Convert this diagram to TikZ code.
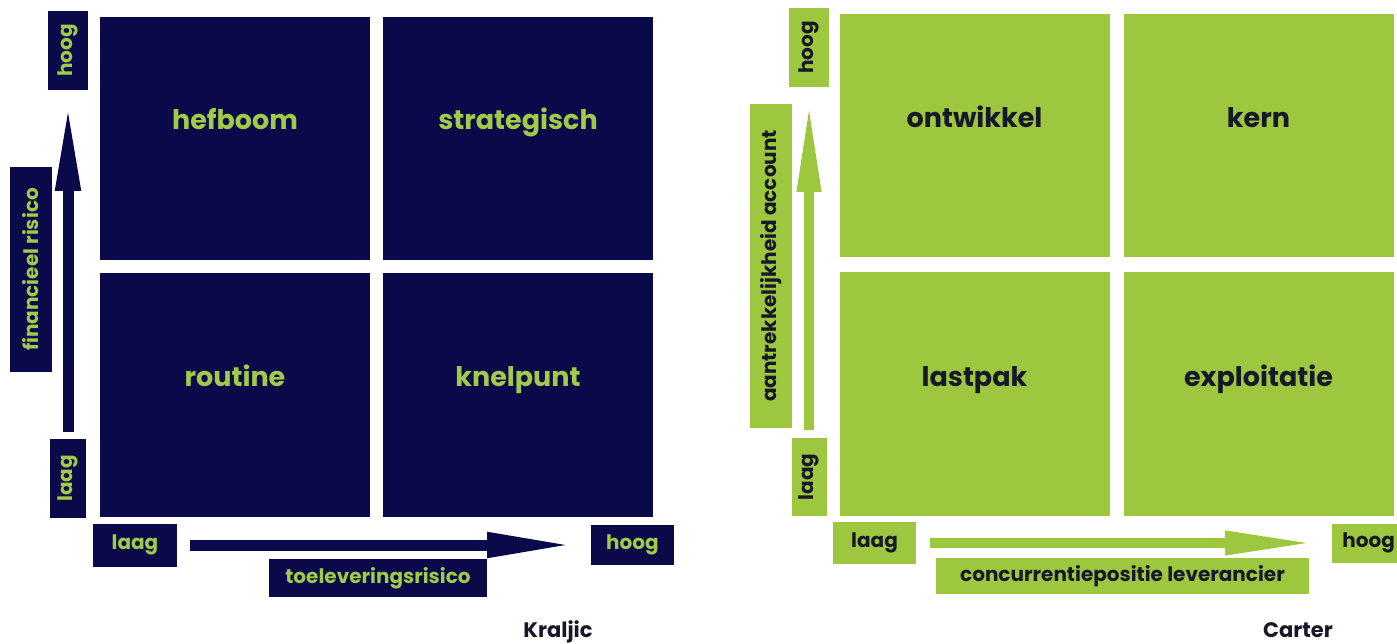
\documentclass[tikz,border=0pt]{standalone}
\usepackage{fontspec}
\setmainfont{Poppins}
\usetikzlibrary{arrows.meta}
\definecolor{navy}{RGB}{10,10,74}
\definecolor{lime}{RGB}{157,199,62}
\definecolor{limetext}{RGB}{160,202,72}
\definecolor{ink}{RGB}{22,24,42}
\newcommand{\fs}[1]{\fontsize{#1}{#1}\selectfont}
\tikzset{
  base/.style={inner sep=0pt, outer sep=0pt},
  kquad/.style={base, fill=navy, minimum width=270pt, minimum height=243pt},
  cquad/.style={base, fill=lime, minimum width=270pt, minimum height=243pt},
  klabel/.style={base, anchor=base, text=limetext, font=\bfseries\fs{27}},
  clabel/.style={base, anchor=base, text=ink, font=\bfseries\fs{27}},
  kbox/.style={base, fill=navy},
  cbox/.style={base, fill=lime},
  ktext/.style={base, text=limetext, font=\bfseries\fs{20}},
  ctext/.style={base, text=ink, font=\bfseries\fs{20}},
  title/.style={base, anchor=base, text=ink, font=\bfseries\fs{21}},
  karrow/.style={draw=navy, line width=11pt, -{Triangle[length=88pt,width=23pt]}},
  carrow/.style={draw=lime, line width=10pt, -{Triangle[length=90pt,width=22pt]}},
}
\begin{document}
\begin{tikzpicture}[x=1pt,y=-1pt]
\useasboundingbox (0,0) rectangle (1397,644);

% ---------- Kraljic matrix ----------
\node[kquad] (kTL) at (235,138.5) {};
\node[kquad] (kTR) at (518,138.5) {};
\node[kquad] (kBL) at (235,395) {};
\node[kquad] (kBR) at (518,395) {};
\node[klabel] at ([yshift=8.5pt]kTL.center) {hefboom};
\node[klabel] at ([yshift=8.5pt]kTR.center) {strategisch};
\node[klabel] at ([yshift=8.5pt]kBL.center) {routine};
\node[klabel] at ([yshift=8.5pt]kBR.center) {knelpunt};

% vertical axis
\node[kbox, minimum width=40pt, minimum height=79pt] (kHoogV) at (68,50.5) {};
\node[ktext, rotate=90] at (kHoogV.center) {hoog};
\node[kbox, minimum width=42pt, minimum height=205pt] (kFin) at (31,269.5) {};
\node[ktext, rotate=90] at (kFin.center) {financieel risico};
\node[kbox, minimum width=36pt, minimum height=79pt] (kLaagV) at (68,478.5) {};
\node[ktext, rotate=90] at (kLaagV.center) {laag};
\draw[karrow, shorten <=7pt, shorten >=13pt] (kLaagV.north) -- (kHoogV.south);

% horizontal axis
\node[kbox, minimum width=84pt, minimum height=43pt] (kLaagH) at (135,545) {};
\node[ktext] at (kLaagH.center) {laag};
\node[kbox, minimum width=83pt, minimum height=40pt] (kHoogH) at (632.5,545) {};
\node[ktext] at (kHoogH.center) {hoog};
\node[kbox, minimum width=218pt, minimum height=38pt] (kToe) at (378,578) {};
\node[ktext] at (kToe.center) {toeleveringsrisico};
\draw[karrow, shorten <=13pt, shorten >=16pt] (kLaagH.east) -- (kHoogH.west);

\node[title] (kTitle) at (558,637) {Kraljic};

% ---------- Carter matrix ----------
\node[cquad] (cTL) at (974.5,136) {};
\node[cquad] (cTR) at (1258.5,136) {};
\node[cquad] (cBL) at (974.5,394) {};
\node[cquad] (cBR) at (1258.5,394) {};
\node[clabel] at ([yshift=8pt]cTL.center) {ontwikkel};
\node[clabel] at ([yshift=8pt]cTR.center) {kern};
\node[clabel] at ([yshift=8pt]cBL.center) {lastpak};
\node[clabel] at ([yshift=8pt]cBR.center) {exploitatie};

% vertical axis
\node[cbox, minimum width=40pt, minimum height=79pt] (cHoogV) at (809,47.5) {};
\node[ctext, rotate=90] at (cHoogV.center) {hoog};
\node[cbox, minimum width=42pt, minimum height=324pt] (cAtt) at (771,266) {};
\node[ctext, rotate=90] at (cAtt.center) {aantrekkelijkheid account};
\node[cbox, minimum width=35pt, minimum height=78pt] (cLaagV) at (809,477) {};
\node[ctext, rotate=90] at (cLaagV.center) {laag};
\draw[carrow, shorten <=8pt, shorten >=15pt] (cLaagV.north) -- (cHoogV.south);

% horizontal axis (the right-hand box runs off the page edge)
\node[cbox, minimum width=86pt, minimum height=39pt] (cHoogH) at (1375,543) {};
\node[ctext, anchor=east] at (1395,543) {hoog};
\node[cbox, minimum width=83pt, minimum height=42pt] (cLaagH) at (874.5,543) {};
\node[ctext] at (cLaagH.center) {laag};
\node[cbox, minimum width=373pt, minimum height=36pt] (cConc) at (1122.5,576) {};
\node[ctext] at (cConc.center) {concurrentiepositie leverancier};
\draw[carrow, shorten <=14pt, shorten >=17pt] (cLaagH.east) -- (cHoogH.west);

\node[title] (cTitle) at (1298,637) {Carter};
\end{tikzpicture}
\end{document}
